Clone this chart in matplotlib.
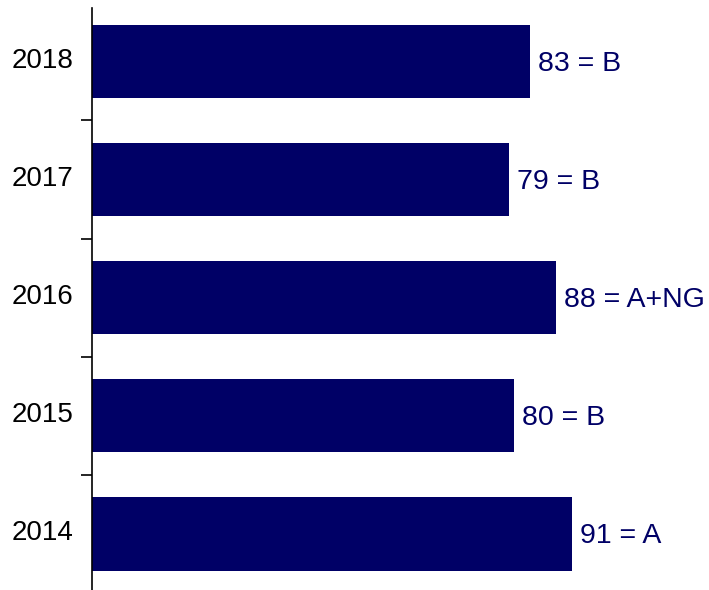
import matplotlib
matplotlib.use('Agg')
import matplotlib.pyplot as plt
import numpy as np

plt.rcParams['font.family'] = ['Liberation Sans', 'DejaVu Sans']

# Data, bottom to top.
years = ['2014', '2015', '2016', '2017', '2018']
scores = [91, 80, 88, 79, 83]
grades = ['A', 'B', 'A+NG', 'B', 'B']

navy = '#000066'

fig = plt.figure(figsize=(7.09, 5.90), dpi=100)
ax = fig.add_axes([92 / 709, 0.0, 1 - 92 / 709, 582 / 590])

pos = np.arange(len(years))
ax.barh(pos, scores, height=0.62, color=navy)

# Value labels just past the end of each bar.
for p, s, g in zip(pos, scores, grades):
    ax.text(s + 1.5, p - 0.02, '%d = %s' % (s, g), color=navy,
            fontsize=20.5, va='center', ha='left')

ax.set_xlim(0, 117)
ax.set_ylim(-0.474, 4.451)

# Year labels at the bar centres (slightly raised), tick marks
# between the bars.
ax.set_yticks(pos + 0.03)
ax.set_yticklabels(years, fontsize=20)
ax.tick_params(axis='y', which='major', length=0, pad=13.5)
ax.set_yticks(pos[:-1] + 0.5, minor=True)
ax.tick_params(axis='y', which='minor', length=8, width=1.2, direction='out')

ax.set_xticks([])
for side in ['top', 'right', 'bottom']:
    ax.spines[side].set_visible(False)
ax.spines['left'].set_linewidth(1.2)

fig.savefig('out.png', dpi=100)
